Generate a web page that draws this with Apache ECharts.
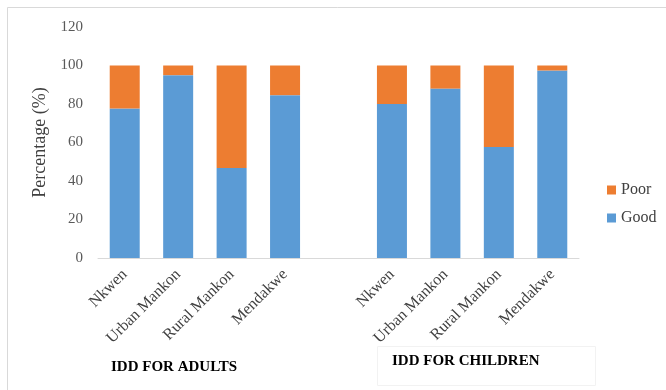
<!DOCTYPE html>
<html>
<head>
<meta charset="utf-8">
<script src="https://cdn.jsdelivr.net/npm/echarts@6/dist/echarts.min.js"></script>
<style>html,body{margin:0;padding:0;background:#fff;}#c{width:666px;height:390px;}</style>
</head>
<body>
<div id="c"></div>
<script>
var categories = ['Nkwen', 'Urban Mankon', 'Rural Mankon', 'Mendakwe', '', 'Nkwen', 'Urban Mankon', 'Rural Mankon', 'Mendakwe'];
var goodValues = [77.6, 95, 46.8, 84.6, null, 80, 88, 57.7, 97.4];
var poorValues = [22.4, 5, 53.2, 15.4, null, 20, 12, 42.3, 2.6];
var groupLabels = ['IDD FOR ADULTS', 'IDD FOR CHILDREN'];
var yMin = 0, yMax = 120, yInterval = 20;

var serif = '"Liberation Serif", "Times New Roman", serif';
var chart = echarts.init(document.getElementById('c'));
chart.setOption({
  animation: false,
  backgroundColor: '#fff',
  grid: { left: 98, right: 87, top: 27, bottom: 132 },
  legend: {
    orient: 'vertical',
    left: 602,
    top: 177,
    itemWidth: 9,
    itemHeight: 9,
    itemGap: 12,
    icon: 'rect',
    data: ['Poor', 'Good'],
    textStyle: { fontFamily: serif, fontSize: 16, color: '#404040' }
  },
  xAxis: {
    type: 'category',
    data: categories,
    axisLine: { lineStyle: { color: '#d9d9d9', width: 1 } },
    axisTick: { show: false },
    axisLabel: {
      interval: 0,
      rotate: 45,
      margin: 14,
      fontFamily: serif,
      fontSize: 16,
      color: '#404040'
    }
  },
  yAxis: {
    type: 'value',
    min: yMin,
    max: yMax,
    interval: yInterval,
    name: 'Percentage (%)',
    nameLocation: 'middle',
    nameGap: 46,
    nameTextStyle: { fontFamily: serif, fontSize: 18, color: '#404040' },
    axisLine: { show: false },
    axisTick: { show: false },
    splitLine: { show: false },
    axisLabel: { margin: 15, fontFamily: serif, fontSize: 15, color: '#595959' }
  },
  series: [
    {
      name: 'Good',
      type: 'bar',
      stack: 'total',
      barWidth: 30,
      data: goodValues,
      itemStyle: { color: '#5B9BD5' }
    },
    {
      name: 'Poor',
      type: 'bar',
      stack: 'total',
      barWidth: 30,
      data: poorValues,
      itemStyle: { color: '#ED7D31' }
    }
  ],
  graphic: [
    {
      type: 'rect',
      shape: { x: 7.5, y: 7.5, width: 700, height: 420 },
      style: { fill: 'none', stroke: '#d9d9d9', lineWidth: 1 },
      silent: true
    },
    {
      type: 'rect',
      shape: { x: 377.5, y: 346.5, width: 218, height: 39 },
      style: { fill: 'none', stroke: '#f2f2f2', lineWidth: 1 },
      silent: true
    },
    {
      type: 'text',
      left: 111,
      top: 360,
      style: { text: groupLabels[0], font: 'bold 15px ' + serif, fill: '#000' }
    },
    {
      type: 'text',
      left: 392,
      top: 354,
      style: { text: groupLabels[1], font: 'bold 15px ' + serif, fill: '#000' }
    }
  ]
});
</script>
</body>
</html>
